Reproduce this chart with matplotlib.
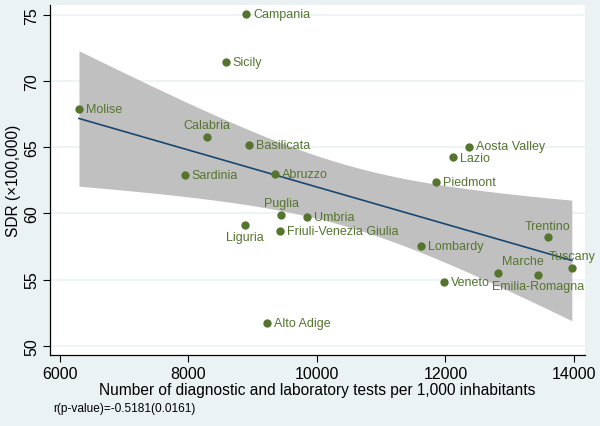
import numpy as np
import matplotlib
matplotlib.use("Agg")
import matplotlib.pyplot as plt

plt.rcParams['font.family'] = ['Liberation Sans', 'DejaVu Sans']

regions = ["Campania", "Sicily", "Molise", "Calabria", "Basilicata", "Sardinia",
           "Abruzzo", "Puglia", "Liguria", "Friuli-Venezia Giulia", "Umbria",
           "Alto Adige", "Aosta Valley", "Lazio", "Piedmont", "Lombardy",
           "Veneto", "Marche", "Emilia-Romagna", "Trentino", "Tuscany"]
tests = [8895, 8583, 6296, 8288, 8941, 7945, 9346, 9440, 8880, 9424, 9844,
         9221, 12364, 12115, 11851, 11617, 11975, 12815, 13437, 13593, 13966]
sdr = [75.1, 71.45, 67.9, 65.8, 65.2, 62.9, 63.0, 59.9, 59.1, 58.7, 59.75,
       51.7, 65.0, 64.3, 62.4, 57.55, 54.8, 55.5, 55.35, 58.2, 55.9]
label_pos = {"Calabria": "above", "Puglia": "above", "Liguria": "below",
             "Trentino": "above", "Tuscany": "above", "Marche": "aboveright",
             "Emilia-Romagna": "below"}
xticks = [6000, 8000, 10000, 12000, 14000]
yticks = [50, 55, 60, 65, 70, 75]
note = "r(p-value)=-0.5181(0.0161)"

GREEN = "#55752f"
NAVY = "#1a476f"
BG = "#eaf2f3"

x = np.array(tests, float)
y = np.array(sdr, float)
n = len(x)
b1, b0 = np.polyfit(x, y, 1)
xs = np.linspace(x.min(), x.max(), 200)
yh = b0 + b1 * xs
resid = y - (b0 + b1 * x)
s = np.sqrt(np.sum(resid ** 2) / (n - 2))
tval = 2.093
se = s * np.sqrt(1.0 / n + (xs - x.mean()) ** 2 / np.sum((x - x.mean()) ** 2))

fig = plt.figure(figsize=(6, 4.27), dpi=100, facecolor=BG)
ax = fig.add_axes([50 / 600, 1 - 356 / 427, 535 / 600, 350 / 427])
ax.set_facecolor("white")
ax.fill_between(xs, yh - tval * se, yh + tval * se, color="#c0c0c0", lw=0, zorder=1)
ax.plot(xs, yh, color=NAVY, lw=1.2, zorder=2)
ax.scatter(x, y, s=36, color=GREEN, zorder=3, linewidths=0)

for name, xi, yi in zip(regions, x, y):
    pos = label_pos.get(name, "right")
    dy = 1.2 if name == "Aosta Valley" else (-0.8 if name == "Lazio" else 0)
    if pos == "right":
        ax.annotate(name, (xi, yi), xytext=(5, dy), textcoords="offset points",
                    ha="left", va="center", color=GREEN, fontsize=9, zorder=4)
    elif pos == "above":
        ax.annotate(name, (xi, yi), xytext=(0, 4), textcoords="offset points",
                    ha="center", va="bottom", color=GREEN, fontsize=9, zorder=4)
    elif pos == "aboveright":
        ax.annotate(name, (xi, yi), xytext=(3, 4), textcoords="offset points",
                    ha="left", va="bottom", color=GREEN, fontsize=9, zorder=4)
    else:
        ax.annotate(name, (xi, yi), xytext=(0, -4), textcoords="offset points",
                    ha="center", va="top", color=GREEN, fontsize=9, zorder=4)

ax.set_xlim(5845, 14171)
ax.set_ylim(49.3, 75.75)
ax.set_xticks(xticks)
ax.set_yticks(yticks)
ax.set_yticklabels([str(v) for v in yticks], rotation=90, va="center")
ax.tick_params(labelsize=11.5, length=5, width=0.8, color="black", pad=3)
ax.grid(axis="y", color=BG, lw=1.2, zorder=0)
ax.set_axisbelow(True)
for sp in ["top", "right"]:
    ax.spines[sp].set_visible(False)
for sp in ["left", "bottom"]:
    ax.spines[sp].set_linewidth(0.9)
ax.set_xlabel("Number of diagnostic and laboratory tests per 1,000 inhabitants",
              fontsize=11.2, labelpad=1)
ax.set_ylabel("SDR (×100,000)", fontsize=11.2, labelpad=2)
fig.text(53 / 600, 1 - 409 / 427, note, fontsize=8.6, va="center", ha="left")

fig.savefig("out.png", dpi=100, facecolor=BG)
